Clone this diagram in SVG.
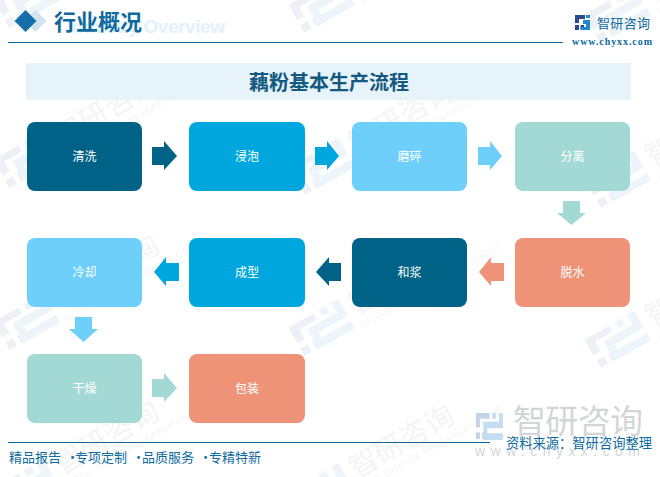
<svg xmlns="http://www.w3.org/2000/svg" width="660" height="477" viewBox="0 0 660 477">
<style>
.n{font:12px "Noto Sans CJK SC",sans-serif;fill:#fff;text-anchor:middle}
.b{font-family:"Liberation Serif","Noto Sans CJK SC",serif;fill:#0e6a9e}
.f{font-family:"Noto Sans CJK SC",sans-serif;fill:#0e6a9e}
.wa{fill:#edf1f6}
.wb{fill:#edf5fa}
.wt{font:400 29px "Noto Sans CJK SC",sans-serif;fill:#f4f4f4}
.ws{font:8.500px "Liberation Sans",sans-serif;fill:#f4f4f4;letter-spacing:.6px}
</style>
<defs>
<path id="la" d="M0 0H24V6H7V15H0ZM0 20H7V27H0ZM11 20H18V27H11Z"/>
<path id="lb" d="M29 0H36V6H29ZM41 0H48V16H20V21H48V28H13V9H41Z"/>
<g id="tile">
<g transform="translate(-29,-17) scale(1.2)"><use href="#la" class="wa"/><use href="#lb" class="wb"/></g>
<text class="wt" x="36" y="6">智研咨询</text>
<text class="ws" x="36" y="20">INTELLIGENCE RESEARCH GROUP</text>
</g>
</defs>
<rect width="660" height="477" fill="#fff"/>
<g id="watermarks">
<use href="#tile" transform="translate(27,0) rotate(-30)"/>
<use href="#tile" transform="translate(322,5) rotate(-30)"/>
<use href="#tile" transform="translate(618,15) rotate(-30)"/>
<use href="#tile" transform="translate(27,160) rotate(-30)"/>
<use href="#tile" transform="translate(322,167) rotate(-30)"/>
<use href="#tile" transform="translate(618,180) rotate(-30)"/>
<use href="#tile" transform="translate(27,322) rotate(-30)"/>
<use href="#tile" transform="translate(322,328) rotate(-30)"/>
<use href="#tile" transform="translate(618,340) rotate(-30)"/>
<use href="#tile" transform="translate(27,488) rotate(-30)"/>
<use href="#tile" transform="translate(322,492) rotate(-30)"/>
</g>
<text x="67" y="33" font-family="Liberation Sans,sans-serif" font-weight="700" font-size="19" fill="#e3f1fb" textLength="158">Industry Overview</text>
<g id="brand-watermark">
<g transform="translate(476,413) scale(.56,.96)"><use href="#la" fill="#c6d3e6"/><use href="#lb" fill="#c3def0"/></g>
<text x="513" y="433" font-family="Noto Sans CJK SC,sans-serif" font-size="33" fill="#d3d6d8" textLength="130">智研咨询</text>
<text x="475" y="456" font-family="Liberation Sans,sans-serif" font-size="14" fill="#d3d6d8" textLength="165">www.chyxx.com</text>
</g>
<g id="header">
<path d="M35.500 10 46.500 21 35.500 32 24.500 21Z" fill="#d3e3ee"/>
<path d="M25.500 10 36.500 21 25.500 32 14.500 21Z" fill="#156fa9"/>
<text class="b" x="54" y="30" font-size="22" font-weight="700">行业概况</text>
<path d="M8 42.500H563" stroke="#0e6a9e" fill="none"/>
<path d="M8 442.500H490" stroke="#0e6a9e" fill="none"/>
<g transform="translate(575,15)"><path d="M0 0H10V4H4V8H0ZM0 10H4V15H0ZM5.500 10H9V15H5.500Z" fill="#2b4a8c"/><path d="M11 0H15V3H11ZM11 5H15V15H6V12H11V9H8V5Z" fill="#1e88d0"/></g>
<text class="f" x="597" y="28" font-size="13" textLength="53">智研咨询</text>
<text class="b" x="572" y="45" font-size="10" font-weight="700" textLength="80">www.chyxx.com</text>
</g>
<g id="title"><rect x="26" y="63" width="605" height="37" fill="#e6f3fb"/>
<text x="329" y="90" font-family="Liberation Serif,Noto Sans CJK SC,serif" font-weight="700" font-size="20" fill="#14597f" text-anchor="middle">藕粉基本生产流程</text></g>
<g id="connectors">
<path d="M152 147H164V141L177 156 164 170V165H152Z" fill="#006286"/>
<path d="M315 147H327V141L339 156 327 170V165H315Z" fill="#00a6de"/>
<path d="M478 147H490V141L502 156 490 170V165H478Z" fill="#6dcffa"/>
<path d="M563 201H580V213H586L571.500 225 557 213H563Z" fill="#a3d9d5"/>
<path d="M504 263H491V257L479 272 491 286V281H504Z" fill="#ef9378"/>
<path d="M341 263H329V257L316 272 329 286V281H341Z" fill="#006286"/>
<path d="M179 263H166V257L154 272 166 286V281H179Z" fill="#00a6de"/>
<path d="M75 317H92V329H98L83.500 342 69 329H75Z" fill="#6dcffa"/>
<path d="M152 379H164V373L177 388 164 402V397H152Z" fill="#a3d9d5"/>
</g>
<g id="n1"><rect x="27" y="122" width="115" height="69" rx="8" fill="#006286"/><text class="n" x="84.500" y="161">清洗</text></g>
<g id="n2"><rect x="189" y="122" width="116" height="69" rx="8" fill="#00a6de"/><text class="n" x="247" y="161">浸泡</text></g>
<g id="n3"><rect x="352" y="122" width="115" height="69" rx="8" fill="#6dcffa"/><text class="n" x="409.500" y="161">磨碎</text></g>
<g id="n4"><rect x="515" y="122" width="115" height="69" rx="8" fill="#a3d9d5"/><text class="n" x="572.500" y="161">分离</text></g>
<g id="n5"><rect x="515" y="238" width="115" height="69" rx="8" fill="#ef9378"/><text class="n" x="572.500" y="277">脱水</text></g>
<g id="n6"><rect x="352" y="238" width="115" height="69" rx="8" fill="#006286"/><text class="n" x="409.500" y="277">和浆</text></g>
<g id="n7"><rect x="189" y="238" width="116" height="69" rx="8" fill="#00a6de"/><text class="n" x="247" y="277">成型</text></g>
<g id="n8"><rect x="27" y="238" width="115" height="69" rx="8" fill="#6dcffa"/><text class="n" x="84.500" y="277">冷却</text></g>
<g id="n9"><rect x="27" y="354" width="115" height="69" rx="8" fill="#a3d9d5"/><text class="n" x="84.500" y="393">干燥</text></g>
<g id="n10"><rect x="189" y="354" width="116" height="69" rx="8" fill="#ef9378"/><text class="n" x="247" y="393">包装</text></g>
<g id="footer">
<text class="f" y="462" font-size="13"><tspan x="9">精品报告</tspan><tspan x="66">·</tspan><tspan x="75">专项定制</tspan><tspan x="132">·</tspan><tspan x="142">品质服务</tspan><tspan x="199">·</tspan><tspan x="209">专精特新</tspan></text>
<text class="f" x="506" y="448" font-size="13.300" textLength="146">资料来源：智研咨询整理</text>
</g>
</svg>
